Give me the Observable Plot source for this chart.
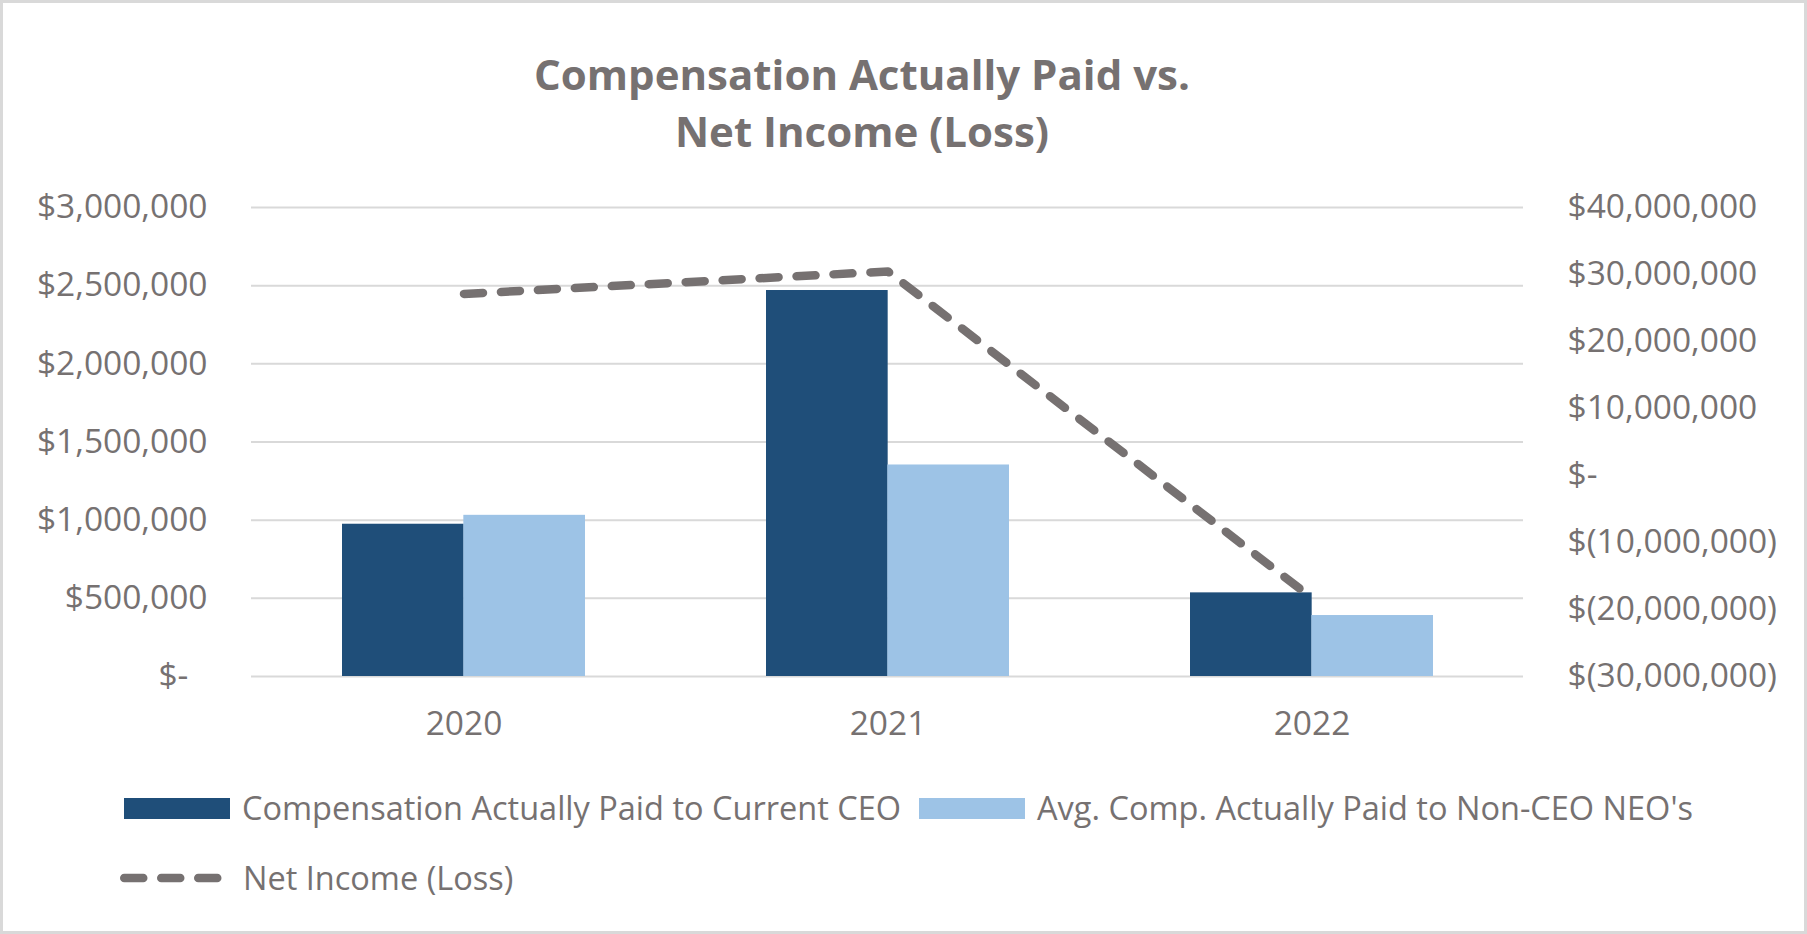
<!DOCTYPE html>
<html>
<head>
<meta charset="utf-8">
<script src="https://cdn.jsdelivr.net/npm/d3@7"></script>
<script src="https://cdn.jsdelivr.net/npm/@observablehq/plot@0.6"></script>
<style>
  html, body { margin: 0; padding: 0; background: #fff; }
  #chart { position: relative; width: 1807px; height: 934px; background: #fff; overflow: hidden; font-family: 'Open Sans', sans-serif; color: #767171; }
  #title { position: absolute; left: 0; width: 1724px; top: 45px; text-align: center; font-weight: 700; font-size: 42px; line-height: 57px; color: #767171; }
  #plotwrap { position: absolute; left: 0; top: 170px; }
  .leg { position: absolute; display: flex; align-items: center; font-size: 32.5px; line-height: 1; color: #767171; white-space: nowrap; }
  .sw { width: 106px; height: 21px; }
  #border { position: absolute; left: 0; top: 0; width: 1807px; height: 934px; box-sizing: border-box; border: 3px solid #D9D9D9; pointer-events: none; }
</style>
</head>
<body>
<div id="chart">
  <div id="title"></div>
  <div id="plotwrap"></div>
  <div id="leg1" class="leg" style="left:124px; top:792px;"></div>
  <div id="leg2" class="leg" style="left:919px; top:792px;"></div>
  <div id="leg3" class="leg" style="left:116px; top:861px;"></div>
  <div id="border"></div>
</div>
<script>
// ---- data ----
const titleLines = ["Compensation Actually Paid vs.", "Net Income (Loss)"];
const years = ["2020", "2021", "2022"];
const ceoComp = [974000, 2469000, 535000];
const neoComp = [1031000, 1353000, 390000];
const netIncome = [27100000, 30450000, -18300000];
const leftTicks = [0, 500000, 1000000, 1500000, 2000000, 2500000, 3000000];
const rightTicks = [-30000000, -20000000, -10000000, 0, 10000000, 20000000, 30000000, 40000000];
const seriesNames = ["Compensation Actually Paid to Current CEO", "Avg. Comp. Actually Paid to Non-CEO NEO's", "Net Income (Loss)"];
const colors = { ceo: "#1F4E79", neo: "#9DC3E6", line: "#767171", grid: "#D9D9D9", text: "#767171" };

// ---- layout ----
const W = 1807, H = 590;
const mL = 251, mR = 284, mT = 37, mB = 84;
const padInner = 0.4277, padOuter = padInner / 2;
const tickFont = 33.5;

const rows = years.map((year, i) => ({ year, ceo: ceoComp[i], neo: neoComp[i], ni: netIncome[i] }));

// secondary axis mapping (right domain -> left domain)
const lMin = leftTicks[0], lMax = leftTicks[leftTicks.length - 1];
const rMin = rightTicks[0], rMax = rightTicks[rightTicks.length - 1];
const toLeft = v => lMin + (v - rMin) * (lMax - lMin) / (rMax - rMin);
const fromLeft = u => Math.round((rMin + (u - lMin) * (rMax - rMin) / (lMax - lMin)) / 1e6) * 1e6;

const num = d3.format(",");
const fmtLeft = v => v === 0 ? "$-\u2007" : "$" + num(v);
const fmtRight = u => { const v = fromLeft(u); return v === 0 ? "$-" : v < 0 ? "$(" + num(-v) + ")" : "$" + num(v); };

const step = (W - mL - mR) / (years.length - padInner + 2 * padOuter);
const half = step * (1 - padInner) / 2;

const dash = "19 18";

const plot = Plot.plot({
  width: W, height: H,
  marginLeft: mL, marginRight: mR, marginTop: mT, marginBottom: mB,
  x: { type: "band", domain: years, paddingInner: padInner, paddingOuter: padOuter, label: null },
  y: { domain: [lMin, lMax], label: null },
  style: { fontFamily: "'Open Sans', sans-serif", fontSize: tickFont + "px", color: colors.text, background: "transparent", overflow: "visible" },
  marks: [
    Plot.gridY({ ticks: leftTicks, stroke: colors.grid, strokeOpacity: 1, strokeWidth: 2 }),
    Plot.barY(rows, { x: "year", y: "ceo", fill: colors.ceo, insetRight: half }),
    Plot.barY(rows, { x: "year", y: "neo", fill: colors.neo, insetLeft: half }),
    Plot.line(rows, { x: "year", y: d => toLeft(d.ni), stroke: colors.line, strokeWidth: 8.5, strokeDasharray: dash, strokeLinecap: "round", strokeLinejoin: "round" }),
    Plot.axisY({ ticks: leftTicks, anchor: "left", tickSize: 0, tickPadding: 44, tickFormat: fmtLeft, fontSize: tickFont, label: null }),
    Plot.axisY({ ticks: rightTicks.map(toLeft), anchor: "right", tickSize: 0, tickPadding: 44, tickFormat: fmtRight, fontSize: tickFont, label: null }),
    Plot.axisX({ tickSize: 0, tickPadding: 35, fontSize: tickFont, label: null })
  ]
});
document.getElementById("plotwrap").appendChild(plot);

// ---- title ----
document.getElementById("title").innerHTML = titleLines.join("<br>");

// ---- legend ----
function swatchItem(el, color, text) {
  el.innerHTML = `<div class="sw" style="background:${color}"></div><span style="margin-left:12px">${text}</span>`;
}
swatchItem(document.getElementById("leg1"), colors.ceo, seriesNames[0]);
swatchItem(document.getElementById("leg2"), colors.neo, seriesNames[1]);
document.getElementById("leg3").innerHTML =
  `<svg width="112" height="34"><line x1="8.25" x2="101.75" y1="17" y2="17" stroke="${colors.line}" stroke-width="8.5" stroke-dasharray="${dash}" stroke-linecap="round"/></svg><span style="margin-left:15px">${seriesNames[2]}</span>`;
</script>
</body>
</html>
